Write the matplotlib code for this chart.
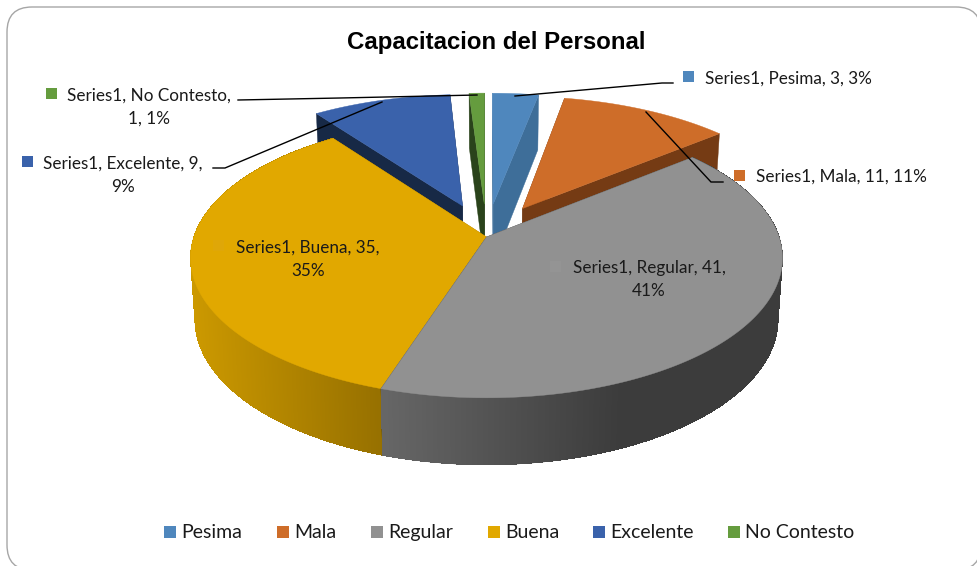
"""3D exploded pie: Capacitacion del Personal. Writes out.png."""

import numpy as np
import matplotlib

matplotlib.use("Agg")
import matplotlib.pyplot as plt
from matplotlib.collections import PolyCollection
from matplotlib.patches import FancyBboxPatch, Polygon, Rectangle

categories = ["Pesima", "Mala", "Regular", "Buena", "Excelente", "No Contesto"]
values = [3, 11, 41, 35, 9, 1]
percents = ["3%", "11%", "41%", "35%", "9%", "1%"]
title = "Capacitacion del Personal"

# --- palette ---
TOP = ["#4F87BD", "#CE6D29", "#919191", "#E1A800", "#3A62AB", "#659C3E"]
WALL = ["#3E6E99", "#753B14", "#3C3C3C", "#997000", "#172946", "#2A431B"]
INK = "#1a1a1a"

# --- projection, fitted to the picture (pixels) ---
CX, CY = 486.5, 237
A, B, P = 292.6, 136.7, 0.15
EXPLODE = [0.25, 0.25, 0, 0, 0.25, 0.25]

plt.rcParams["font.family"] = ["Lato", "DejaVu Sans"]
fig = plt.figure(figsize=(9.77, 5.66), dpi=100, facecolor="white")
ax = fig.add_axes([0, 0, 1, 1])
ax.set_xlim(0, 977)
ax.set_ylim(566, 0)
ax.axis("off")


def project(u, v):
    s = 1 / (1 - P * v)
    return CX + A * u * s, CY + B * v * s, s


def drop(x, y, s):
    # same point on the bottom face of the disc
    return CX + (x - CX) * 0.985, y + 24.6 + 36 * s


def slice_points(i, a0, a1, n=400):
    mid = (a0 + a1) / 2
    du, dv = EXPLODE[i] * np.sin(mid), -EXPLODE[i] * np.cos(mid)
    th = np.linspace(a0, a1, n)
    rim = project(np.sin(th) + du, -np.cos(th) + dv)
    apex = project(du, dv)
    return rim, apex


def wall_shade(i, x):
    # outer walls of the two front slices fade with x
    if i == 2:
        t = np.clip((x - 384) / 236, 0, 1)
        return np.outer(1 - t, [0.40, 0.40, 0.40]) + np.outer(t, [0.235, 0.235, 0.235])
    t = np.clip((x - 190) / 190, 0, 1)
    start, end = np.array([0.80, 0.60, 0.0]), np.array([0.59, 0.44, 0.0])
    return np.outer(1 - t, start) + np.outer(t, end)


def draw_slice(i, a0, a1):
    (rx, ry, rs), (ax0, ay0, as0) = slice_points(i, a0, a1)
    bx, by = drop(rx, ry, rs)
    abx, aby = drop(ax0, ay0, as0)
    # radial walls
    for j in (0, -1):
        quad = [(ax0, ay0), (rx[j], ry[j]), (bx[j], by[j]), (abx, aby)]
        ax.add_patch(Polygon(quad, facecolor=WALL[i], edgecolor=WALL[i], lw=0.3))
    # outer wall, front slices only
    if i in (2, 3):
        outline = np.column_stack([np.r_[rx, bx[::-1]], np.r_[ry, by[::-1]]])
        ax.add_patch(Polygon(outline, facecolor=WALL[i], edgecolor=WALL[i], lw=0.3))
        quads = np.stack([np.column_stack([rx[:-1], ry[:-1]]), np.column_stack([rx[1:], ry[1:]]),
                          np.column_stack([bx[1:], by[1:]]), np.column_stack([bx[:-1], by[:-1]])],
                         axis=1)
        shade = wall_shade(i, (rx[:-1] + rx[1:]) / 2)
        ax.add_collection(PolyCollection(quads, facecolors=shade, edgecolors="none",
                                         antialiaseds=False))
    top = np.column_stack([np.r_[ax0, rx], np.r_[ay0, ry]])
    ax.add_patch(Polygon(top, facecolor=TOP[i], edgecolor=TOP[i], lw=0.3))


# chart frame, runs past the bottom and right of the picture
ax.add_patch(FancyBboxPatch((7, 7), 974, 563, boxstyle="round,pad=0,rounding_size=25",
                            facecolor="white", edgecolor="#a6a6a6", lw=1.0, clip_on=True))

edges = np.r_[0, np.cumsum(values)] / sum(values) * 2 * np.pi
for i in [4, 5, 0, 1, 3, 2]:
    draw_slice(i, edges[i], edges[i + 1])

# --- leader lines ---
leaders = [
    [(673, 83), (662, 83), (515, 96)],
    [(723, 182), (711, 182), (646, 112)],
    [(238, 100), (340, 98), (477, 95)],
    [(213, 168), (225, 168), (382, 102)],
]
for pts in leaders:
    xs, ys = zip(*pts)
    ax.plot(xs, ys, color="black", lw=1.0, solid_joinstyle="miter")

# --- data labels ---
LABEL = 12.3


def key(x, y, color):
    ax.add_patch(Rectangle((x, y), 11, 11, facecolor=color, edgecolor="none"))


def two_lines(x, y, first, second):
    ax.text(x, y, first, fontsize=LABEL, color=INK, va="center", ha="center")
    ax.text(x, y + 23, second, fontsize=LABEL, color=INK, va="center", ha="center")


key(683, 71, TOP[0])
ax.text(705, 79, "Series1, {}, {}, {}".format(categories[0], values[0], percents[0]),
        fontsize=LABEL, color=INK, va="center")
key(734, 170, TOP[1])
ax.text(756, 177, "Series1, {}, {}, {}".format(categories[1], values[1], percents[1]),
        fontsize=LABEL, color=INK, va="center")
key(46, 88, TOP[5])
two_lines(149, 96, "Series1, {},".format(categories[5]), "{}, {}".format(values[5], percents[5]))
key(22, 156, TOP[4])
two_lines(123, 164, "Series1, {}, {},".format(categories[4], values[4]), percents[4])
# these two keys sit on their own slice, barely visible
key(213, 240, "#DFA708")
two_lines(308, 248, "Series1, {}, {},".format(categories[3], values[3]), percents[3])
key(550, 261, "#949494")
two_lines(649, 268, "Series1, {}, {},".format(categories[2], values[2]), percents[2])

ax.text(496.5, 42, title, fontsize=17.3, fontweight="bold", family="Liberation Sans",
        color="black", ha="center", va="center")

# --- legend, one row ---
legend_x = [164, 277, 371, 488, 593, 728]
for x, name, color in zip(legend_x, categories, TOP):
    ax.add_patch(Rectangle((x, 526), 12, 12, facecolor=color, edgecolor="none"))
    ax.text(x + 17, 538, name, fontsize=14, color=INK, va="baseline")

fig.savefig("out.png", dpi=100, facecolor="white")
